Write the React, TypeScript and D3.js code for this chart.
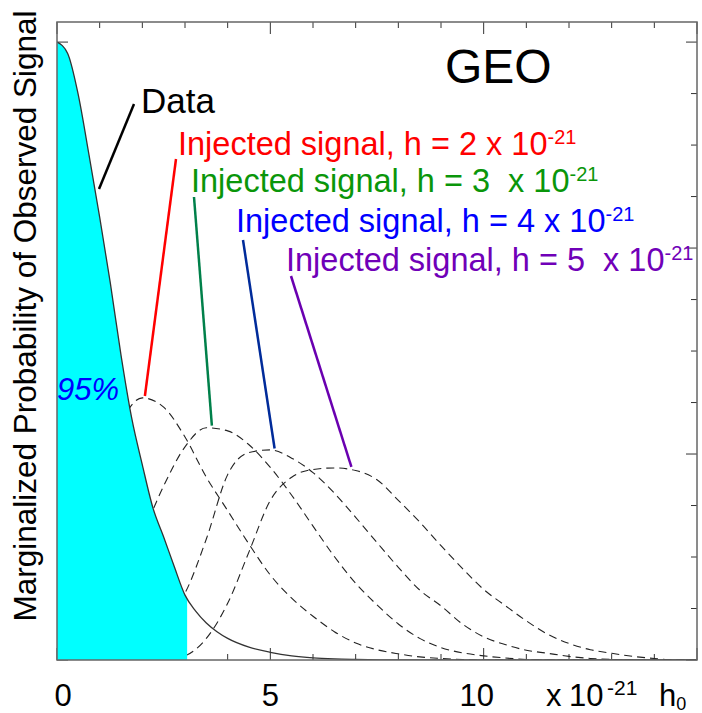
import React from 'react';
import * as d3 from 'd3';

const WIDTH = 702;
const HEIGHT = 713;
const margin = { top: 22, right: 5, bottom: 53, left: 57 };

// observed signal amplitude h0, in units of 1e-21
const dataH = [0, 0.25, 0.5, 0.75, 1, 1.25, 1.5, 1.75, 2, 2.25, 2.5, 2.75, 3, 3.25, 3.5, 3.75, 4,
  4.5, 5, 5.5, 6, 6.5, 7, 8, 9, 10, 11, 12, 13, 14, 15];
// marginalized probability of the data (arbitrary units, one minor tick = 1)
const dataProb = [12.0, 11.78, 10.97, 9.81, 8.6, 7.32, 5.92, 4.7, 3.79, 2.95, 2.39, 1.81, 1.26, 0.95, 0.72, 0.55, 0.42,
  0.25, 0.15, 0.08, 0.04, 0.02, 0.01, 0, 0, 0, 0, 0, 0, 0, 0];

// injected signal distributions
const injH = [0, 0.5, 1, 1.5, 2, 2.5, 3, 3.5, 4, 4.5, 5, 5.5, 6, 6.5, 7, 7.5, 8, 8.5, 9, 9.5,
  10, 10.5, 11, 11.5, 12, 12.5, 13, 13.5, 14, 14.5, 15];
const inj2 = [0, 2.0, 3.37, 4.6, 5.09, 4.91, 4.33, 3.55, 2.9, 2.25, 1.65, 1.2, 0.85, 0.55, 0.33, 0.2, 0.12, 0.06, 0.03, 0.01,
  0, 0, 0, 0, 0, 0, 0, 0, 0, 0, 0];
const inj3 = [0, 0.44, 0.89, 1.56, 2.44, 3.38, 4.14, 4.51, 4.45, 4.18, 3.74, 3.2, 2.6, 2.01, 1.49, 1.07, 0.7, 0.42, 0.24, 0.14,
  0.08, 0.04, 0.01, 0, 0, 0, 0, 0, 0, 0, 0];
const inj4 = [0, 0, 0.04, 0.12, 0.35, 0.78, 1.3, 2.35, 3.6, 4.03, 4.08, 3.92, 3.64, 3.24, 2.77, 2.28, 1.8, 1.36, 1.05, 0.7,
  0.45, 0.3, 0.19, 0.13, 0.07, 0.03, 0.01, 0, 0, 0, 0];
const inj5 = [0, 0, 0, 0, 0, 0, 0.08, 0.42, 1.1, 2.1, 3.1, 3.55, 3.7, 3.73, 3.68, 3.5, 3.1, 2.68, 2.22, 1.78,
  1.37, 1.06, 0.76, 0.5, 0.32, 0.2, 0.13, 0.07, 0.03, 0, 0];

const injAmps = ['2', '3\u00a0', '4', '5\u00a0'];
const injSeries = [inj2, inj3, inj4, inj5];
const injTextColors = ['#ff0000', '#0a960a', '#0000ff', '#7000b8'];
const injLineColors = ['#ff0000', '#00804a', '#002b9a', '#6a00b0'];
// where each pointer touches its curve (h0)
const injPointAt = [2.06, 3.63, 5.1, 6.9];

const cut95 = 3.05;
const xTickLabels = [0, 5, 10];

// label layout (pixels)
const injLabelPos = [[178, 155], [191, 192], [236, 232], [286, 271]];
const injLineTop = [[176, 159], [194, 197], [243, 240], [291, 276]];
const xLabelNudge = [6, 0, -7];

const FONT = '"Liberation Sans", Arial, Helvetica, sans-serif';

export default function App() {
  const x = d3.scaleLinear().domain([0, 15]).range([margin.left, WIDTH - margin.right]);
  const y = d3.scaleLinear().domain([0, 12.39]).range([HEIGHT - margin.bottom, margin.top]);
  const x0 = x.range()[0], x1 = x.range()[1];
  const yb = y.range()[0], yt = y.range()[1];

  const dataPts = dataH.map((h, i) => [h, dataProb[i]] as [number, number]);
  const line = d3.line<[number, number]>()
    .x(d => x(d[0])).y(d => y(d[1])).curve(d3.curveMonotoneX);
  const area = d3.area<[number, number]>()
    .x(d => x(d[0])).y0(yb).y1(d => y(d[1])).curve(d3.curveMonotoneX);

  const valueAt = (xs: number[], ys: number[], v: number) => {
    const i = Math.min(d3.bisectRight(xs, v), xs.length - 1);
    const t = (v - xs[i - 1]) / (xs[i] - xs[i - 1]);
    return ys[i - 1] + t * (ys[i] - ys[i - 1]);
  };

  const xTicks = x.ticks(15);
  const yTicks = y.ticks(12).filter(v => v <= 12.39);

  return (
    <svg width={WIDTH} height={HEIGHT} style={{ position: 'absolute', left: 0, top: 0, background: '#fff' }}
      fontFamily={FONT}>
      <defs>
        <clipPath id="plot">
          <rect x={x0} y={yt} width={x1 - x0} height={yb - yt} />
        </clipPath>
        <clipPath id="cl95">
          <rect x={x0} y={yt} width={x(cut95) - x0} height={yb - yt} />
        </clipPath>
      </defs>

      {/* ticks on all four sides */}
      <g stroke="#333" strokeWidth={1}>
        {xTicks.map(v => {
          const len = v % 5 === 0 ? 12 : 6;
          return (
            <g key={'xt' + v}>
              <line x1={x(v)} x2={x(v)} y1={yb} y2={yb - len} />
              <line x1={x(v)} x2={x(v)} y1={yt} y2={yt + len} />
            </g>
          );
        })}
        {yTicks.map(v => {
          const len = v % 4 === 0 ? 11 : 6;
          return (
            <g key={'yt' + v}>
              <line x1={x0} x2={x0 + len} y1={y(v)} y2={y(v)} />
              <line x1={x1} x2={x1 - len} y1={y(v)} y2={y(v)} />
            </g>
          );
        })}
      </g>

      {/* injected signal distributions */}
      <g clipPath="url(#plot)" fill="none" stroke="#222" strokeWidth={1.1} strokeDasharray="8,5">
        {injSeries.map((s, k) => (
          <path key={k} d={line(injH.map((h, i) => [h, s[i]] as [number, number])) || ''} />
        ))}
      </g>

      {/* 95% region */}
      <path d={area(dataPts) || ''} fill="#00ffff" clipPath="url(#cl95)" />
      <path d={line(dataPts) || ''} fill="none" stroke="#333" strokeWidth={1.3} clipPath="url(#plot)" />

      {/* frame */}
      <rect x={x0} y={yt} width={x1 - x0} height={yb - yt} fill="none" stroke="#666" strokeWidth={1.5} />

      {/* x tick labels */}
      {xTickLabels.map((v, i) => (
        <text key={v} x={x(v) + xLabelNudge[i]} y={706} fontSize={31} textAnchor="middle" fill="#000">{v}</text>
      ))}
      <text y={706} fontSize={31} fill="#000">
        <tspan x={546}>x</tspan>
        <tspan x={569}>10</tspan>
        <tspan x={607} dy={-11} fontSize={21}>-21</tspan>
        <tspan x={659} dy={11}>h</tspan>
        <tspan dy={4} fontSize={18}>0</tspan>
      </text>

      <text transform="translate(36,316) rotate(-90)" textAnchor="middle" fontSize={31.5} fill="#000">
        Marginalized Probability of Observed Signal
      </text>

      <text x={445} y={83} fontSize={48} fill="#000">GEO</text>

      <text x={141} y={113} fontSize={35} fill="#000">Data</text>
      <line x1={134} y1={104} x2={99} y2={189} stroke="#000" strokeWidth={2.5} />

      <text x={57} y={400} fontSize={31} fontStyle="italic" fill="#0000ff">95%</text>

      {injSeries.map((s, k) => {
        const px = injPointAt[k];
        const py = valueAt(injH, s, px);
        return (
          <g key={'lab' + k}>
            <line x1={injLineTop[k][0]} y1={injLineTop[k][1]} x2={x(px)} y2={y(py) - 3}
              stroke={injLineColors[k]} strokeWidth={2.5} />
            <text x={injLabelPos[k][0]} y={injLabelPos[k][1]} fontSize={32.5} fill={injTextColors[k]}>
              {`Injected signal, h = ${injAmps[k]} x 10`}
              <tspan dy={-11} fontSize={20}>-21</tspan>
            </text>
          </g>
        );
      })}
    </svg>
  );
}
